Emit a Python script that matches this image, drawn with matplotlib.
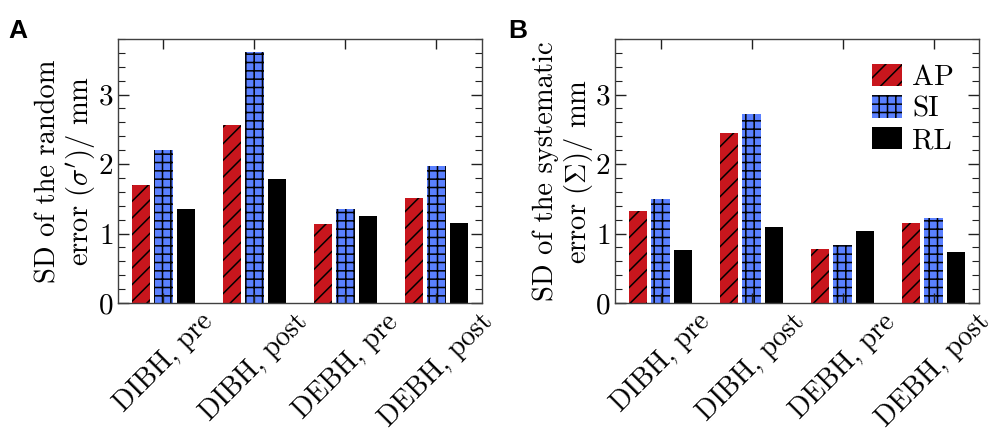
import matplotlib
matplotlib.use('Agg')
import matplotlib.pyplot as plt
import numpy as np

conditions = ['DIBH, pre', 'DIBH, post', 'DEBH, pre', 'DEBH, post']
directions = ['AP', 'SI', 'RL']

# SD of the random error (sigma') / mm
random_ap = [1.70, 2.56, 1.14, 1.51]
random_si = [2.20, 3.61, 1.35, 1.97]
random_rl = [1.36, 1.78, 1.25, 1.15]

# SD of the systematic error (Sigma) / mm
syst_ap = [1.32, 2.45, 0.78, 1.15]
syst_si = [1.49, 2.72, 0.83, 1.23]
syst_rl = [0.76, 1.09, 1.03, 0.74]

colors = ['#c8161d', '#5a80ff', 'black']
hatches = ['//', '++', '']

plt.rcParams['font.family'] = 'cmr10'
plt.rcParams['mathtext.fontset'] = 'cm'
plt.rcParams['axes.formatter.use_mathtext'] = True
plt.rcParams['hatch.linewidth'] = 1.1


def panel(ax, series, ylabel):
    x = np.arange(len(conditions))
    for i, vals in enumerate(series):
        ax.bar(x + (i - 1) * 0.25, vals, width=0.2, color=colors[i],
               hatch=hatches[i], edgecolor='black', linewidth=0,
               label=directions[i])
    ax.set_xlim(-0.5, 3.5)
    ax.set_ylim(0, 3.8)
    ax.set_yticks([0, 1, 2, 3])
    ax.set_yticks(np.arange(0, 3.81, 0.2), minor=True)
    ax.set_xticks(x)
    ax.set_xticklabels(conditions, rotation=45, fontsize=20)
    ax.tick_params(axis='both', which='both', direction='in',
                   top=True, right=True, colors='#202020', labelcolor='black')
    ax.tick_params(axis='y', which='major', length=8, width=1, labelsize=21)
    ax.tick_params(axis='y', which='minor', length=5, width=0.8)
    ax.tick_params(axis='x', which='major', length=7, width=1, pad=4)
    ax.set_ylabel(ylabel, fontsize=20.5, labelpad=0, linespacing=1.1)
    for s in ax.spines.values():
        s.set_color('#404040')
        s.set_linewidth(1.0)


def main():
    fig = plt.figure(figsize=(9.91, 4.28), dpi=100)
    ax1 = fig.add_axes([0.119, 0.292, 0.3673, 0.617])
    ax2 = fig.add_axes([0.6206, 0.292, 0.3673, 0.617])

    panel(ax1, [random_ap, random_si, random_rl],
          "SD of the random\nerror ($\\sigma'$)/ mm")
    panel(ax2, [syst_ap, syst_si, syst_rl],
          "SD of the systematic\nerror ($\\Sigma$)/ mm")

    ax2.legend(loc='upper right', frameon=False, fontsize=21,
               handlelength=1.05, handleheight=0.8, labelspacing=0.15,
               handletextpad=0.35, borderaxespad=0.45)

    fig.text(0.008, 0.911, 'A', fontsize=19, fontweight='bold',
             family='Liberation Sans', va='baseline')
    fig.text(0.513, 0.911, 'B', fontsize=19, fontweight='bold',
             family='Liberation Sans', va='baseline')

    fig.savefig('out.png', dpi=100)


if __name__ == "__main__":
    main()
